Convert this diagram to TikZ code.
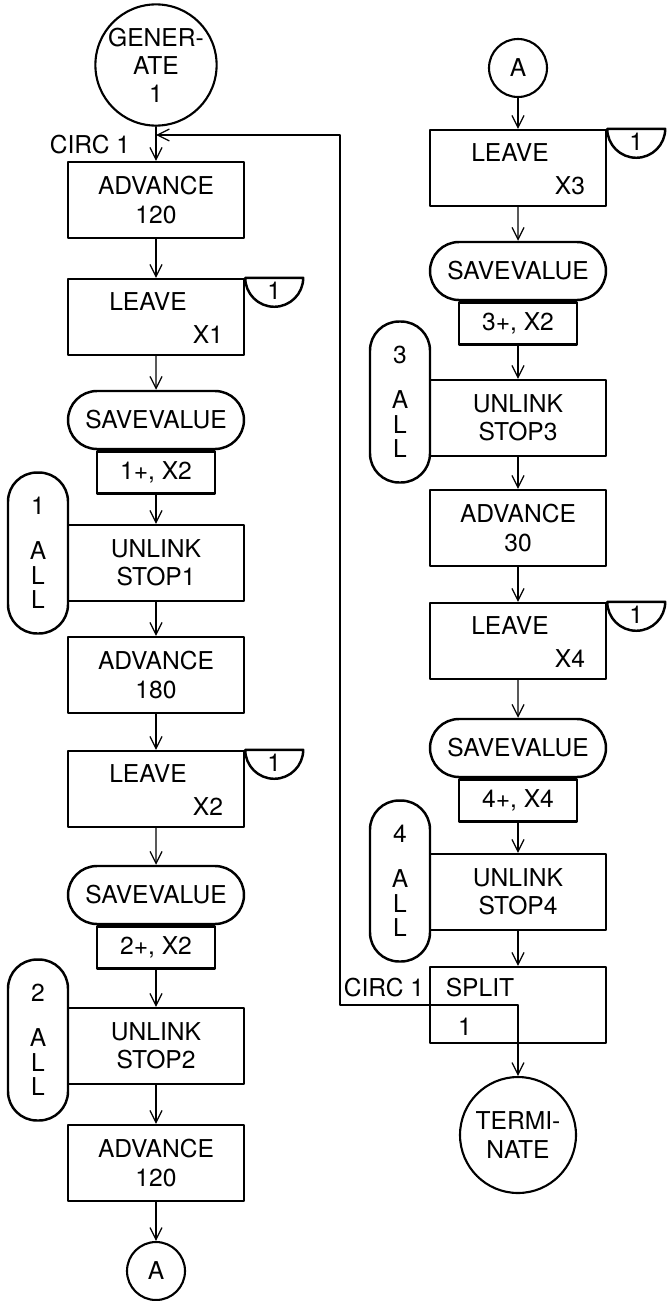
\documentclass[tikz,border=0pt]{standalone}
\usepackage{fontspec}
\setmainfont{TeX Gyre Heros}
\usetikzlibrary{arrows.meta,shapes.misc}

\begin{document}
\begin{tikzpicture}[x=0.02cm, y=-0.02cm, font=\fontsize{14}{16}\selectfont, line join=round, line cap=round,
    >={Straight Barb[length=2.4mm,width=2.4mm]},
    blk/.style={draw, line width=1.4pt, minimum width=3.52cm, minimum height=1.52cm, inner sep=0pt, align=center},
    valbox/.style={draw, line width=1.4pt, minimum width=2.36cm, minimum height=0.84cm, inner sep=0pt},
    savebox/.style={draw, line width=1.4pt, rounded rectangle, minimum width=3.52cm, minimum height=1.16cm, inner sep=0pt},
    allbox/.style={draw, line width=1.4pt, rounded corners=0.58cm, minimum width=1.2cm, minimum height=3.22cm,
        inner sep=0pt, align=center, font=\fontsize{14}{14}\selectfont},
    bigcirc/.style={draw, circle, line width=1.2pt, minimum size=2.32cm, inner sep=0pt, align=center},
    conn/.style={draw, circle, line width=1.2pt, minimum size=1.16cm, inner sep=0pt},
    flow/.style={->, line width=0.7pt}]
    \useasboundingbox (0,0) rectangle (667,1301);

    % Left column
    \node[bigcirc] (gen) at (156,65) {GENER-\\ATE\\1};
    \node[blk] (adv1) at (156,200) {ADVANCE\\120};
    \node[blk] (leave1) at (156,317) {};
    \node[savebox] (sv1) at (156,420) {SAVEVALUE};
    \node[valbox, anchor=north] (val1) at (sv1.south) {1+, X2};
    \node[blk] (unl1) at (156,563) {UNLINK\\STOP1};
    \node[allbox] (all1) at (38,553) {1\\[0.4cm]A\\L\\L};
    \node[blk] (adv2) at (156,675) {ADVANCE\\180};
    \node[blk] (leave2) at (156,789) {};
    \node[savebox] (sv2) at (156,895) {SAVEVALUE};
    \node[valbox, anchor=north] (val2) at (sv2.south) {2+, X2};
    \node[blk] (unl2) at (156,1046) {UNLINK\\STOP2};
    \node[allbox] (all2) at (38,1040) {2\\[0.4cm]A\\L\\L};
    \node[blk] (adv3) at (156,1163) {ADVANCE\\120};
    \node[conn] (conA1) at (156,1271) {A};

    % Right column
    \node[conn] (conA2) at (518,68) {A};
    \node[blk] (leave3) at (518,168) {};
    \node[savebox] (sv3) at (518,271) {SAVEVALUE};
    \node[valbox, anchor=north] (val3) at (sv3.south) {3+, X2};
    \node[blk] (unl3) at (518,418) {UNLINK\\STOP3};
    \node[allbox] (all3) at (400,402) {3\\[0.4cm]A\\L\\L};
    \node[blk] (adv4) at (518,528) {ADVANCE\\30};
    \node[blk] (leave4) at (518,641) {};
    \node[savebox] (sv4) at (518,748) {SAVEVALUE};
    \node[valbox, anchor=north] (val4) at (sv4.south) {4+, X4};
    \node[blk] (unl4) at (518,892) {UNLINK\\STOP4};
    \node[allbox] (all4) at (400,881) {4\\[0.4cm]A\\L\\L};
    \node[blk] (split) at (518,1005) {};
    \node[bigcirc] (term) at (518,1135) {TERMI-\\NATE};

    % LEAVE texts and the half circles
    \node (leave1a) at ([shift={(-8,24)}]leave1.north) {LEAVE};
    \node (leave1b) at ([shift={(52,-22)}]leave1.south) {X1};
    \node (leave2a) at ([shift={(-8,24)}]leave2.north) {LEAVE};
    \node (leave2b) at ([shift={(52,-22)}]leave2.south) {X2};
    \node (leave3a) at ([shift={(-8,24)}]leave3.north) {LEAVE};
    \node (leave3b) at ([shift={(52,-22)}]leave3.south) {X3};
    \node (leave4a) at ([shift={(-8,24)}]leave4.north) {LEAVE};
    \node (leave4b) at ([shift={(52,-22)}]leave4.south) {X4};
    \draw[line width=1.4pt] (leave1.north east) -- ++(58,0) arc[start angle=0, end angle=-180, radius=0.58cm] -- cycle;
    \draw[line width=1.4pt] (leave2.north east) -- ++(58,0) arc[start angle=0, end angle=-180, radius=0.58cm] -- cycle;
    \draw[line width=1.4pt] (leave3.north east) -- ++(58,0) arc[start angle=0, end angle=-180, radius=0.58cm] -- cycle;
    \draw[line width=1.4pt] (leave4.north east) -- ++(58,0) arc[start angle=0, end angle=-180, radius=0.58cm] -- cycle;
    \node (q1) at ([shift={(29,13)}]leave1.north east) {1};
    \node (q2) at ([shift={(29,13)}]leave2.north east) {1};
    \node (q3) at ([shift={(29,13)}]leave3.north east) {1};
    \node (q4) at ([shift={(29,13)}]leave4.north east) {1};

    % SPLIT texts
    \node (splita) at (480,988) {SPLIT};
    \node (splitb) at (465,1027) {1};
    \node (circlab1) at (90,145) {CIRC 1};
    \node (circlab2) at (384,988) {CIRC 1};

    % Connectors
    \draw[flow] (gen) -- (adv1);
    \draw[flow] (adv1) -- (leave1);
    \draw[flow] (leave1) -- (sv1);
    \draw[flow] (val1) -- (unl1);
    \draw[flow] (unl1) -- (adv2);
    \draw[flow] (adv2) -- (leave2);
    \draw[flow] (leave2) -- (sv2);
    \draw[flow] (val2) -- (unl2);
    \draw[flow] (unl2) -- (adv3);
    \draw[flow] (adv3) -- (conA1);
    \draw[flow] (conA2) -- (leave3);
    \draw[flow] (leave3) -- (sv3);
    \draw[flow] (val3) -- (unl3);
    \draw[flow] (unl3) -- (adv4);
    \draw[flow] (adv4) -- (leave4);
    \draw[flow] (leave4) -- (sv4);
    \draw[flow] (val4) -- (unl4);
    \draw[flow] (unl4) -- (split);
    \draw[flow] (split) -- (term);
    \draw[line width=0.7pt] (split.center) -- (split.south);

    % Back to CIRC 1
    \coordinate (back) at (340,1005);
    \coordinate (backtop) at (340,135);
    \coordinate (circ1) at (156,135);
    \draw[flow] (split.center) -- (back) -- (backtop) -- (circ1);
\end{tikzpicture}
\end{document}
